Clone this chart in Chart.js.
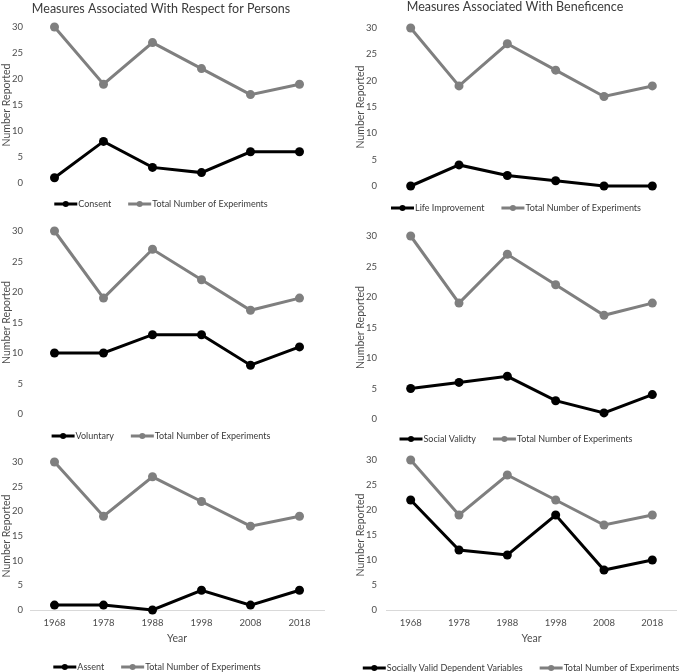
<!DOCTYPE html>
<html>
<head>
<meta charset="utf-8">
<script src="https://cdn.jsdelivr.net/npm/chart.js@4.4.0/dist/chart.umd.min.js"></script>
<style>
  html, body { margin: 0; padding: 0; background: #fff; }
  #wrap { position: relative; width: 681px; height: 672px; overflow: hidden; }
  canvas { position: absolute; top: 0; }
</style>
</head>
<body>
<div id="wrap">
  <canvas id="p1" width="340" height="672" style="left:0"></canvas>
  <canvas id="p2" width="341" height="672" style="left:340px"></canvas>
  <canvas id="p3" width="340" height="672" style="left:0"></canvas>
  <canvas id="p4" width="341" height="672" style="left:340px"></canvas>
  <canvas id="p5" width="340" height="672" style="left:0"></canvas>
  <canvas id="p6" width="341" height="672" style="left:340px"></canvas>
</div>
<script>
/* data */
const years = ['1968', '1978', '1988', '1998', '2008', '2018'];
const totalExperiments = [30, 19, 27, 22, 17, 19];
const consent = [1, 8, 3, 2, 6, 6];
const lifeImprovement = [0, 4, 2, 1, 0, 0];
const voluntary = [10, 10, 13, 13, 8, 11];
const socialValidity = [5, 6, 7, 3, 1, 4];
const assent = [1, 1, 0, 4, 1, 4];
const sociallyValidDV = [22, 12, 11, 19, 8, 10];
const yTicks = [0, 5, 10, 15, 20, 25, 30];

const BLACK = '#000000', GREY = '#7f7f7f', TXT = '#4d4d4d';
const FONT = 'Lato';

// legend (line + dot sample) and panel title, drawn outside the plot
const legendLine = {
  id: 'legendLine',
  afterDraw(chart, args, o) {
    const ctx = chart.ctx;
    ctx.save();
    if (o.title) {
      ctx.font = `12.5px ${FONT}`;
      ctx.fillStyle = '#3a3a3a';
      ctx.textAlign = 'center';
      ctx.textBaseline = 'middle';
      ctx.fillText(o.title, o.titleX, o.titleY);
    }
    ctx.font = `9px ${FONT}`;
    const sample = 23, gap = 1, itemGap = 17;
    const items = chart.data.datasets.map(ds => ({
      text: ds.label, color: ds.borderColor,
      w: sample + gap + ctx.measureText(ds.label).width
    }));
    const total = items.reduce((s, it) => s + it.w, 0) + itemGap * (items.length - 1);
    let x = o.cx - total / 2;
    items.forEach(it => {
      ctx.strokeStyle = it.color; ctx.lineWidth = 3;
      ctx.beginPath(); ctx.moveTo(x, o.y); ctx.lineTo(x + sample, o.y); ctx.stroke();
      ctx.fillStyle = it.color;
      ctx.beginPath(); ctx.arc(x + sample / 2, o.y, 3, 0, Math.PI * 2); ctx.fill();
      ctx.fillStyle = '#3a3a3a'; ctx.textAlign = 'left'; ctx.textBaseline = 'middle';
      ctx.fillText(it.text, x + sample + gap, o.y + 0.5);
      x += it.w + itemGap;
    });
    ctx.restore();
  }
};

function makePanel(id, label, values, p) {
  const xAxis = p.bottom
    ? {
        type: 'category', offset: true,
        grid: { display: false, drawTicks: false },
        border: { display: true, color: '#d9d9d9', width: 1 },
        ticks: { color: TXT, font: { family: FONT, size: 9.5 }, padding: 7 },
        title: { display: true, text: 'Year', color: TXT, font: { family: FONT, size: 10.5 }, padding: { top: 0, bottom: 5.5 } },
        afterFit: s => { s.height = 40; }
      }
    : { type: 'category', offset: true, display: false };

  return new Chart(document.getElementById(id), {
    type: 'line',
    data: {
      labels: years,
      datasets: [
        { label, data: values, borderColor: BLACK, backgroundColor: BLACK, pointBackgroundColor: BLACK,
          borderWidth: 3, pointRadius: 4.5, pointBorderWidth: 0, tension: 0, clip: false },
        { label: 'Total Number of Experiments', data: totalExperiments, borderColor: GREY, backgroundColor: GREY,
          pointBackgroundColor: GREY, borderWidth: 3, pointRadius: 4.5, pointBorderWidth: 0, tension: 0, clip: false }
      ]
    },
    options: {
      responsive: false,
      animation: false,
      events: [],
      layout: { padding: { top: p.top, bottom: p.padBottom, left: 0, right: p.right } },
      plugins: {
        legend: { display: false },
        tooltip: { enabled: false },
        legendLine: { cx: p.legendX, y: p.legendY, title: p.title, titleX: p.titleX, titleY: p.titleY }
      },
      scales: {
        x: xAxis,
        y: {
          min: 0, max: 30,
          afterBuildTicks: s => { s.ticks = yTicks.map(v => ({ value: v })); },
          grid: { display: false, drawTicks: false },
          border: { display: false },
          ticks: { color: TXT, font: { family: FONT, size: 9.5 }, padding: p.tickPad },
          title: { display: true, text: 'Number Reported', color: TXT, font: { family: FONT, size: 10.5 },
                   padding: { top: p.titlePad, bottom: 0 } },
          afterFit: s => { s.width = p.yWidth; }
        }
      }
    },
    plugins: [legendLine]
  });
}

const H = 672;
const L = { yWidth: 30, right: 16, tickPad: 7, titlePad: 0 };
const R = { yWidth: 46.5, right: 0.5, tickPad: 9.5, titlePad: 14 };

makePanel('p1', 'Consent', consent, Object.assign({}, L, {
  top: 27, padBottom: H - 183, legendX: 161, legendY: 204,
  title: 'Measures Associated With Respect for Persons', titleX: 161, titleY: 8.5 }));
makePanel('p2', 'Life Improvement', lifeImprovement, Object.assign({}, R, {
  top: 28, padBottom: H - 186, legendX: 176, legendY: 208,
  title: 'Measures Associated With Beneficence', titleX: 175, titleY: 7 }));
makePanel('p3', 'Voluntary', voluntary, Object.assign({}, L, {
  top: 231, padBottom: H - 414, legendX: 161, legendY: 436 }));
makePanel('p4', 'Social Validty', socialValidity, Object.assign({}, R, {
  top: 236, padBottom: H - 419, legendX: 176, legendY: 439 }));
makePanel('p5', 'Assent', assent, Object.assign({}, L, {
  top: 462, padBottom: H - 650, legendX: 157, legendY: 667, bottom: true }));
makePanel('p6', 'Socially Valid Dependent Variables', sociallyValidDV, Object.assign({}, R, {
  top: 460, padBottom: H - 650, legendX: 181, legendY: 668, bottom: true }));
</script>
</body>
</html>
